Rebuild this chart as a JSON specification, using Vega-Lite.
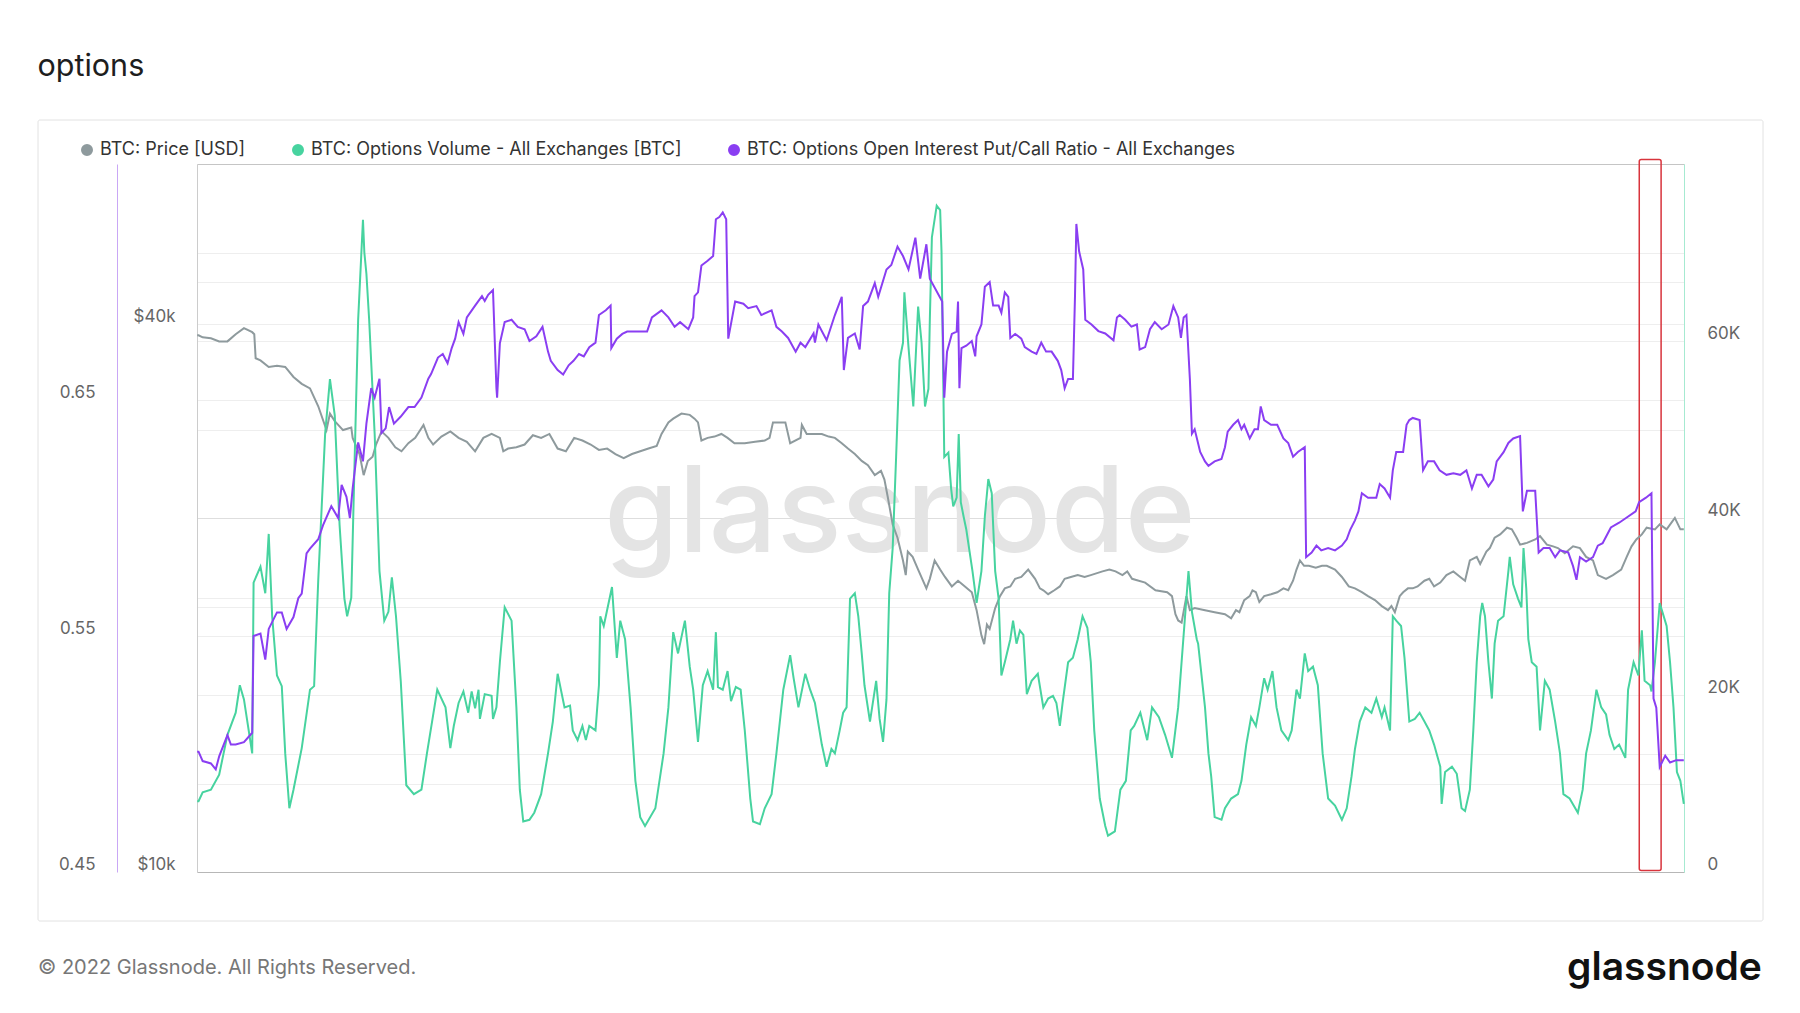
{
"$schema": "https://vega.github.io/schema/vega-lite/v6.json",
"width": 1487, "height": 708,
"autosize": {"type": "none"},
"padding": {"left": 197, "top": 164, "right": 116, "bottom": 141},
"background": "#ffffff",
"title": {"text": "options", "anchor": "start", "frame": "bounds", "font": "Inter", "fontSize": 30.5, "fontWeight": 400, "color": "#1e1e1e", "offset": 13, "baseline": "alphabetic"},
"datasets": {
"price": [
{"t":"2022-05-02T04:00","p":38900},{"t":"2022-05-02T06:00","p":38900},{"t":"2022-05-02T12:00","p":38700},{"t":"2022-05-03T00:00","p":38600},{"t":"2022-05-03T12:00","p":38300},{"t":"2022-05-04T00:00","p":38300},{"t":"2022-05-04T12:00","p":39000},{"t":"2022-05-05T00:00","p":39600},{"t":"2022-05-05T12:00","p":39200},{"t":"2022-05-05T15:00","p":39000},{"t":"2022-05-05T17:00","p":36700},{"t":"2022-05-06T00:00","p":36500},{"t":"2022-05-06T12:00","p":35900},{"t":"2022-05-07T00:00","p":36000},{"t":"2022-05-07T12:00","p":35900},{"t":"2022-05-08T00:00","p":35000},{"t":"2022-05-08T12:00","p":34400},{"t":"2022-05-09T00:00","p":34000},{"t":"2022-05-09T12:00","p":32500},{"t":"2022-05-10T00:00","p":30600},{"t":"2022-05-10T05:00","p":31900},{"t":"2022-05-10T12:00","p":31300},{"t":"2022-05-11T00:00","p":30600},{"t":"2022-05-11T12:00","p":30800},{"t":"2022-05-11T14:00","p":30000},{"t":"2022-05-12T00:00","p":28800},{"t":"2022-05-12T06:00","p":27300},{"t":"2022-05-12T12:00","p":28300},{"t":"2022-05-12T19:00","p":28600},{"t":"2022-05-13T00:00","p":29500},{"t":"2022-05-13T08:00","p":30500},{"t":"2022-05-13T18:00","p":30000},{"t":"2022-05-14T04:00","p":29300},{"t":"2022-05-14T13:00","p":29000},{"t":"2022-05-14T23:00","p":29600},{"t":"2022-05-15T09:00","p":30000},{"t":"2022-05-15T21:00","p":31000},{"t":"2022-05-16T04:00","p":30000},{"t":"2022-05-16T11:00","p":29500},{"t":"2022-05-16T23:00","p":30100},{"t":"2022-05-17T12:00","p":30500},{"t":"2022-05-18T00:00","p":30000},{"t":"2022-05-18T12:00","p":29700},{"t":"2022-05-19T00:00","p":29000},{"t":"2022-05-19T12:00","p":30000},{"t":"2022-05-20T00:00","p":30300},{"t":"2022-05-20T12:00","p":30000},{"t":"2022-05-20T17:00","p":29000},{"t":"2022-05-21T00:00","p":29200},{"t":"2022-05-21T12:00","p":29300},{"t":"2022-05-22T00:00","p":29500},{"t":"2022-05-22T12:00","p":30200},{"t":"2022-05-23T00:00","p":30000},{"t":"2022-05-23T12:00","p":30300},{"t":"2022-05-24T00:00","p":29200},{"t":"2022-05-24T12:00","p":29000},{"t":"2022-05-25T00:00","p":30000},{"t":"2022-05-25T12:00","p":29800},{"t":"2022-05-26T00:00","p":29500},{"t":"2022-05-26T12:00","p":29100},{"t":"2022-05-27T00:00","p":29200},{"t":"2022-05-27T12:00","p":28800},{"t":"2022-05-28T00:00","p":28500},{"t":"2022-05-28T12:00","p":28800},{"t":"2022-05-29T00:00","p":29000},{"t":"2022-05-29T12:00","p":29200},{"t":"2022-05-30T00:00","p":29400},{"t":"2022-05-30T07:00","p":30300},{"t":"2022-05-30T17:00","p":31200},{"t":"2022-05-31T00:00","p":31500},{"t":"2022-05-31T12:00","p":31900},{"t":"2022-06-01T00:00","p":31800},{"t":"2022-06-01T07:00","p":31500},{"t":"2022-06-01T12:00","p":31200},{"t":"2022-06-01T17:00","p":29800},{"t":"2022-06-02T02:00","p":30000},{"t":"2022-06-02T12:00","p":30100},{"t":"2022-06-02T22:00","p":30300},{"t":"2022-06-03T07:00","p":30000},{"t":"2022-06-03T17:00","p":29600},{"t":"2022-06-04T08:00","p":29600},{"t":"2022-06-04T23:00","p":29700},{"t":"2022-06-05T13:00","p":29800},{"t":"2022-06-05T20:00","p":30000},{"t":"2022-06-06T01:00","p":31200},{"t":"2022-06-06T19:00","p":31200},{"t":"2022-06-07T02:00","p":29600},{"t":"2022-06-07T17:00","p":30000},{"t":"2022-06-07T19:00","p":31000},{"t":"2022-06-08T02:00","p":30300},{"t":"2022-06-08T12:00","p":30300},{"t":"2022-06-09T00:00","p":30300},{"t":"2022-06-09T10:00","p":30100},{"t":"2022-06-09T19:00","p":30000},{"t":"2022-06-10T05:00","p":29600},{"t":"2022-06-10T14:00","p":29200},{"t":"2022-06-11T00:00","p":28800},{"t":"2022-06-11T10:00","p":28300},{"t":"2022-06-11T19:00","p":28000},{"t":"2022-06-12T05:00","p":27300},{"t":"2022-06-12T14:00","p":27600},{"t":"2022-06-12T19:00","p":27000},{"t":"2022-06-13T00:00","p":25800},{"t":"2022-06-13T07:00","p":24100},{"t":"2022-06-13T14:00","p":23300},{"t":"2022-06-13T22:00","p":22000},{"t":"2022-06-14T02:00","p":21200},{"t":"2022-06-14T05:00","p":22500},{"t":"2022-06-14T12:00","p":22200},{"t":"2022-06-14T20:00","p":21500},{"t":"2022-06-15T08:00","p":20500},{"t":"2022-06-15T13:00","p":21000},{"t":"2022-06-15T20:00","p":22000},{"t":"2022-06-16T04:00","p":21500},{"t":"2022-06-16T11:00","p":21100},{"t":"2022-06-16T21:00","p":20600},{"t":"2022-06-17T06:00","p":20900},{"t":"2022-06-17T16:00","p":20600},{"t":"2022-06-18T02:00","p":20300},{"t":"2022-06-18T09:00","p":19400},{"t":"2022-06-18T16:00","p":18200},{"t":"2022-06-18T20:00","p":17800},{"t":"2022-06-19T00:00","p":18700},{"t":"2022-06-19T04:00","p":18500},{"t":"2022-06-19T12:00","p":19500},{"t":"2022-06-19T19:00","p":20100},{"t":"2022-06-20T02:00","p":20500},{"t":"2022-06-20T10:00","p":20600},{"t":"2022-06-20T17:00","p":21000},{"t":"2022-06-21T02:00","p":21100},{"t":"2022-06-21T12:00","p":21500},{"t":"2022-06-21T22:00","p":21000},{"t":"2022-06-22T05:00","p":20500},{"t":"2022-06-22T10:00","p":20400},{"t":"2022-06-22T17:00","p":20200},{"t":"2022-06-23T02:00","p":20400},{"t":"2022-06-23T10:00","p":20600},{"t":"2022-06-23T17:00","p":21000},{"t":"2022-06-24T02:00","p":21100},{"t":"2022-06-24T12:00","p":21200},{"t":"2022-06-24T22:00","p":21100},{"t":"2022-06-25T07:00","p":21200},{"t":"2022-06-26T00:00","p":21400},{"t":"2022-06-26T10:00","p":21500},{"t":"2022-06-26T19:00","p":21400},{"t":"2022-06-27T05:00","p":21200},{"t":"2022-06-27T12:00","p":21400},{"t":"2022-06-27T19:00","p":21000},{"t":"2022-06-28T14:00","p":20800},{"t":"2022-06-29T05:00","p":20400},{"t":"2022-06-29T22:00","p":20300},{"t":"2022-06-30T05:00","p":20100},{"t":"2022-06-30T10:00","p":19200},{"t":"2022-06-30T14:00","p":18900},{"t":"2022-06-30T19:00","p":18800},{"t":"2022-07-01T02:00","p":20100},{"t":"2022-07-01T07:00","p":19400},{"t":"2022-07-01T14:00","p":19500},{"t":"2022-07-02T05:00","p":19400},{"t":"2022-07-02T19:00","p":19300},{"t":"2022-07-03T10:00","p":19200},{"t":"2022-07-03T19:00","p":19000},{"t":"2022-07-04T02:00","p":19400},{"t":"2022-07-04T07:00","p":19300},{"t":"2022-07-04T14:00","p":19900},{"t":"2022-07-04T22:00","p":20100},{"t":"2022-07-05T02:00","p":20400},{"t":"2022-07-05T07:00","p":20300},{"t":"2022-07-05T12:00","p":19800},{"t":"2022-07-05T19:00","p":20100},{"t":"2022-07-06T05:00","p":20200},{"t":"2022-07-06T14:00","p":20300},{"t":"2022-07-06T23:00","p":20500},{"t":"2022-07-07T06:00","p":20400},{"t":"2022-07-07T13:00","p":20900},{"t":"2022-07-07T18:00","p":21500},{"t":"2022-07-07T23:00","p":22000},{"t":"2022-07-08T05:00","p":21700},{"t":"2022-07-08T12:00","p":21700},{"t":"2022-07-08T22:00","p":21600},{"t":"2022-07-09T07:00","p":21700},{"t":"2022-07-09T14:00","p":21700},{"t":"2022-07-10T02:00","p":21500},{"t":"2022-07-10T12:00","p":21100},{"t":"2022-07-10T22:00","p":20600},{"t":"2022-07-11T07:00","p":20500},{"t":"2022-07-11T17:00","p":20300},{"t":"2022-07-12T02:00","p":20100},{"t":"2022-07-12T12:00","p":19900},{"t":"2022-07-12T22:00","p":19600},{"t":"2022-07-13T07:00","p":19400},{"t":"2022-07-13T12:00","p":19600},{"t":"2022-07-13T17:00","p":19300},{"t":"2022-07-14T00:00","p":20100},{"t":"2022-07-14T05:00","p":20300},{"t":"2022-07-14T12:00","p":20500},{"t":"2022-07-14T19:00","p":20500},{"t":"2022-07-15T02:00","p":20600},{"t":"2022-07-15T12:00","p":20900},{"t":"2022-07-15T19:00","p":21000},{"t":"2022-07-16T02:00","p":20600},{"t":"2022-07-16T11:00","p":20800},{"t":"2022-07-16T20:00","p":21200},{"t":"2022-07-17T06:00","p":21400},{"t":"2022-07-17T16:00","p":21100},{"t":"2022-07-17T23:00","p":20900},{"t":"2022-07-18T06:00","p":22000},{"t":"2022-07-18T16:00","p":22200},{"t":"2022-07-18T21:00","p":21800},{"t":"2022-07-19T06:00","p":22500},{"t":"2022-07-19T11:00","p":22700},{"t":"2022-07-19T18:00","p":23300},{"t":"2022-07-20T02:00","p":23500},{"t":"2022-07-20T12:00","p":23900},{"t":"2022-07-20T19:00","p":23800},{"t":"2022-07-21T02:00","p":23300},{"t":"2022-07-21T07:00","p":22900},{"t":"2022-07-21T17:00","p":23000},{"t":"2022-07-22T05:00","p":23200},{"t":"2022-07-22T12:00","p":23400},{"t":"2022-07-22T22:00","p":22900},{"t":"2022-07-23T07:00","p":22800},{"t":"2022-07-23T14:00","p":22700},{"t":"2022-07-24T00:00","p":22400},{"t":"2022-07-24T12:00","p":22800},{"t":"2022-07-24T22:00","p":22700},{"t":"2022-07-25T07:00","p":22200},{"t":"2022-07-25T17:00","p":22000},{"t":"2022-07-26T00:00","p":21200},{"t":"2022-07-26T12:00","p":21000},{"t":"2022-07-26T22:00","p":21200},{"t":"2022-07-27T10:00","p":21500},{"t":"2022-07-27T18:00","p":22200},{"t":"2022-07-28T01:00","p":22800},{"t":"2022-07-28T08:00","p":23200},{"t":"2022-07-28T16:00","p":23500},{"t":"2022-07-28T23:00","p":23900},{"t":"2022-07-29T11:00","p":23800},{"t":"2022-07-29T18:00","p":24100},{"t":"2022-07-30T04:00","p":23800},{"t":"2022-07-30T16:00","p":24500},{"t":"2022-07-31T00:00","p":23800},{"t":"2022-07-31T05:00","p":23800}
],
"volume": [
{"t":"2022-05-02T04:00","v":8000},{"t":"2022-05-02T06:00","v":8000},{"t":"2022-05-02T12:00","v":9000},{"t":"2022-05-03T00:00","v":9300},{"t":"2022-05-03T12:00","v":11000},{"t":"2022-05-04T00:00","v":15500},{"t":"2022-05-04T12:00","v":18000},{"t":"2022-05-04T18:00","v":21100},{"t":"2022-05-05T00:00","v":19500},{"t":"2022-05-05T12:00","v":13400},{"t":"2022-05-05T14:00","v":32700},{"t":"2022-05-06T00:00","v":34500},{"t":"2022-05-06T07:00","v":31500},{"t":"2022-05-06T12:00","v":38200},{"t":"2022-05-06T17:00","v":28900},{"t":"2022-05-07T00:00","v":22200},{"t":"2022-05-07T07:00","v":21000},{"t":"2022-05-07T12:00","v":13400},{"t":"2022-05-07T18:00","v":7200},{"t":"2022-05-08T00:00","v":9300},{"t":"2022-05-08T12:00","v":14000},{"t":"2022-05-09T00:00","v":20600},{"t":"2022-05-09T06:00","v":21000},{"t":"2022-05-09T12:00","v":33000},{"t":"2022-05-09T22:00","v":49500},{"t":"2022-05-10T05:00","v":55700},{"t":"2022-05-10T12:00","v":51600},{"t":"2022-05-10T19:00","v":39200},{"t":"2022-05-11T02:00","v":30900},{"t":"2022-05-11T06:00","v":28900},{"t":"2022-05-11T12:00","v":31000},{"t":"2022-05-11T17:00","v":46900},{"t":"2022-05-11T22:00","v":62400},{"t":"2022-05-12T05:00","v":73700},{"t":"2022-05-12T07:00","v":70000},{"t":"2022-05-12T10:00","v":67600},{"t":"2022-05-12T14:00","v":62400},{"t":"2022-05-12T22:00","v":49500},{"t":"2022-05-13T05:00","v":34000},{"t":"2022-05-13T12:00","v":28400},{"t":"2022-05-13T18:00","v":29400},{"t":"2022-05-13T23:00","v":33300},{"t":"2022-05-14T05:00","v":28900},{"t":"2022-05-14T12:00","v":21500},{"t":"2022-05-14T20:00","v":9800},{"t":"2022-05-15T07:00","v":8800},{"t":"2022-05-15T18:00","v":9300},{"t":"2022-05-16T02:00","v":13400},{"t":"2022-05-16T17:00","v":20600},{"t":"2022-05-17T05:00","v":18600},{"t":"2022-05-17T12:00","v":14000},{"t":"2022-05-17T17:00","v":16500},{"t":"2022-05-18T00:00","v":19100},{"t":"2022-05-18T07:00","v":20400},{"t":"2022-05-18T14:00","v":18000},{"t":"2022-05-18T19:00","v":20400},{"t":"2022-05-19T00:00","v":18500},{"t":"2022-05-19T05:00","v":20600},{"t":"2022-05-19T07:00","v":17300},{"t":"2022-05-19T14:00","v":20100},{"t":"2022-05-20T00:00","v":19900},{"t":"2022-05-20T02:00","v":17300},{"t":"2022-05-20T07:00","v":18600},{"t":"2022-05-20T12:00","v":23700},{"t":"2022-05-20T19:00","v":29900},{"t":"2022-05-21T05:00","v":28400},{"t":"2022-05-21T12:00","v":18600},{"t":"2022-05-21T17:00","v":9300},{"t":"2022-05-21T22:00","v":5700},{"t":"2022-05-22T07:00","v":5900},{"t":"2022-05-22T14:00","v":6700},{"t":"2022-05-23T00:00","v":8800},{"t":"2022-05-23T10:00","v":13400},{"t":"2022-05-23T17:00","v":17000},{"t":"2022-05-24T00:00","v":22400},{"t":"2022-05-24T10:00","v":18600},{"t":"2022-05-24T18:00","v":18800},{"t":"2022-05-24T22:00","v":16000},{"t":"2022-05-25T05:00","v":14900},{"t":"2022-05-25T12:00","v":16500},{"t":"2022-05-25T17:00","v":14900},{"t":"2022-05-25T22:00","v":16500},{"t":"2022-05-26T07:00","v":16000},{"t":"2022-05-26T12:00","v":21100},{"t":"2022-05-26T14:00","v":28900},{"t":"2022-05-26T19:00","v":27800},{"t":"2022-05-27T07:00","v":32200},{"t":"2022-05-27T14:00","v":24200},{"t":"2022-05-27T19:00","v":28400},{"t":"2022-05-28T02:00","v":26300},{"t":"2022-05-28T10:00","v":18600},{"t":"2022-05-28T17:00","v":10300},{"t":"2022-05-29T00:00","v":6200},{"t":"2022-05-29T07:00","v":5200},{"t":"2022-05-29T22:00","v":7200},{"t":"2022-05-30T10:00","v":13400},{"t":"2022-05-30T17:00","v":18600},{"t":"2022-05-31T00:00","v":27100},{"t":"2022-05-31T07:00","v":24700},{"t":"2022-05-31T17:00","v":28400},{"t":"2022-06-01T00:00","v":23200},{"t":"2022-06-01T05:00","v":20600},{"t":"2022-06-01T12:00","v":14700},{"t":"2022-06-01T19:00","v":21100},{"t":"2022-06-02T02:00","v":22700},{"t":"2022-06-02T10:00","v":20600},{"t":"2022-06-02T14:00","v":27100},{"t":"2022-06-02T17:00","v":20900},{"t":"2022-06-03T00:00","v":20600},{"t":"2022-06-03T07:00","v":22700},{"t":"2022-06-03T12:00","v":19300},{"t":"2022-06-03T19:00","v":20900},{"t":"2022-06-04T02:00","v":20600},{"t":"2022-06-04T08:00","v":16000},{"t":"2022-06-04T16:00","v":8300},{"t":"2022-06-04T20:00","v":5700},{"t":"2022-06-05T06:00","v":5400},{"t":"2022-06-05T13:00","v":7200},{"t":"2022-06-05T23:00","v":8800},{"t":"2022-06-06T06:00","v":13400},{"t":"2022-06-06T16:00","v":20600},{"t":"2022-06-07T02:00","v":24500},{"t":"2022-06-07T07:00","v":21900},{"t":"2022-06-07T14:00","v":18600},{"t":"2022-06-08T00:00","v":22400},{"t":"2022-06-08T07:00","v":20600},{"t":"2022-06-08T14:00","v":19100},{"t":"2022-06-09T00:00","v":14400},{"t":"2022-06-09T07:00","v":11900},{"t":"2022-06-09T14:00","v":13900},{"t":"2022-06-09T19:00","v":13400},{"t":"2022-06-10T02:00","v":16000},{"t":"2022-06-10T07:00","v":18000},{"t":"2022-06-10T12:00","v":18600},{"t":"2022-06-10T17:00","v":30900},{"t":"2022-06-11T00:00","v":31500},{"t":"2022-06-11T05:00","v":28900},{"t":"2022-06-11T10:00","v":24700},{"t":"2022-06-11T14:00","v":21100},{"t":"2022-06-11T22:00","v":17000},{"t":"2022-06-12T07:00","v":21600},{"t":"2022-06-12T12:00","v":17300},{"t":"2022-06-12T17:00","v":14700},{"t":"2022-06-12T22:00","v":19500},{"t":"2022-06-13T02:00","v":31500},{"t":"2022-06-13T07:00","v":36600},{"t":"2022-06-13T12:00","v":46900},{"t":"2022-06-13T17:00","v":57800},{"t":"2022-06-13T22:00","v":59800},{"t":"2022-06-14T00:00","v":65500},{"t":"2022-06-14T06:00","v":59300},{"t":"2022-06-14T13:00","v":52600},{"t":"2022-06-14T20:00","v":63900},{"t":"2022-06-15T01:00","v":59800},{"t":"2022-06-15T06:00","v":52600},{"t":"2022-06-15T11:00","v":54600},{"t":"2022-06-15T13:00","v":62400},{"t":"2022-06-15T16:00","v":71700},{"t":"2022-06-15T23:00","v":75300},{"t":"2022-06-16T04:00","v":74800},{"t":"2022-06-16T06:00","v":70100},{"t":"2022-06-16T10:00","v":46900},{"t":"2022-06-16T16:00","v":47400},{"t":"2022-06-16T20:00","v":43300},{"t":"2022-06-16T23:00","v":41300},{"t":"2022-06-17T04:00","v":42300},{"t":"2022-06-17T07:00","v":49500},{"t":"2022-06-17T10:00","v":41800},{"t":"2022-06-17T14:00","v":40200},{"t":"2022-06-17T18:00","v":38700},{"t":"2022-06-18T03:00","v":34000},{"t":"2022-06-18T09:00","v":30400},{"t":"2022-06-18T16:00","v":34000},{"t":"2022-06-18T21:00","v":40200},{"t":"2022-06-19T02:00","v":44400},{"t":"2022-06-19T07:00","v":42800},{"t":"2022-06-19T12:00","v":34000},{"t":"2022-06-19T17:00","v":30900},{"t":"2022-06-19T21:00","v":22200},{"t":"2022-06-20T02:00","v":23700},{"t":"2022-06-20T10:00","v":26300},{"t":"2022-06-20T14:00","v":28400},{"t":"2022-06-20T19:00","v":25800},{"t":"2022-06-21T00:00","v":27300},{"t":"2022-06-21T05:00","v":26800},{"t":"2022-06-21T10:00","v":20100},{"t":"2022-06-21T17:00","v":21600},{"t":"2022-06-22T02:00","v":22400},{"t":"2022-06-22T10:00","v":18600},{"t":"2022-06-22T17:00","v":19600},{"t":"2022-06-23T00:00","v":19900},{"t":"2022-06-23T05:00","v":19100},{"t":"2022-06-23T10:00","v":16500},{"t":"2022-06-23T14:00","v":19100},{"t":"2022-06-23T22:00","v":23700},{"t":"2022-06-24T05:00","v":24200},{"t":"2022-06-24T12:00","v":26300},{"t":"2022-06-24T19:00","v":28900},{"t":"2022-06-25T02:00","v":27600},{"t":"2022-06-25T07:00","v":23700},{"t":"2022-06-25T12:00","v":16000},{"t":"2022-06-25T20:00","v":8300},{"t":"2022-06-26T04:00","v":5200},{"t":"2022-06-26T08:00","v":4100},{"t":"2022-06-26T18:00","v":4600},{"t":"2022-06-27T02:00","v":9300},{"t":"2022-06-27T10:00","v":10300},{"t":"2022-06-27T17:00","v":16000},{"t":"2022-06-27T22:00","v":16500},{"t":"2022-06-28T07:00","v":18000},{"t":"2022-06-28T17:00","v":14900},{"t":"2022-06-29T00:00","v":18600},{"t":"2022-06-29T10:00","v":17500},{"t":"2022-06-29T19:00","v":15500},{"t":"2022-06-30T05:00","v":12900},{"t":"2022-06-30T14:00","v":18600},{"t":"2022-07-01T00:00","v":28900},{"t":"2022-07-01T05:00","v":34000},{"t":"2022-07-01T10:00","v":29400},{"t":"2022-07-01T17:00","v":26300},{"t":"2022-07-01T19:00","v":25800},{"t":"2022-07-02T05:00","v":18600},{"t":"2022-07-02T10:00","v":13400},{"t":"2022-07-02T14:00","v":10800},{"t":"2022-07-02T19:00","v":6200},{"t":"2022-07-03T05:00","v":5900},{"t":"2022-07-03T10:00","v":7200},{"t":"2022-07-03T19:00","v":8300},{"t":"2022-07-04T05:00","v":8800},{"t":"2022-07-04T10:00","v":10300},{"t":"2022-07-04T17:00","v":14400},{"t":"2022-07-05T00:00","v":17500},{"t":"2022-07-05T07:00","v":16500},{"t":"2022-07-05T12:00","v":18600},{"t":"2022-07-05T19:00","v":21900},{"t":"2022-07-06T00:00","v":20600},{"t":"2022-07-06T07:00","v":22700},{"t":"2022-07-06T13:00","v":18600},{"t":"2022-07-06T20:00","v":16000},{"t":"2022-07-07T06:00","v":14900},{"t":"2022-07-07T11:00","v":16000},{"t":"2022-07-07T18:00","v":20600},{"t":"2022-07-07T23:00","v":19600},{"t":"2022-07-08T06:00","v":24700},{"t":"2022-07-08T11:00","v":22700},{"t":"2022-07-08T18:00","v":23200},{"t":"2022-07-09T01:00","v":21100},{"t":"2022-07-09T08:00","v":13400},{"t":"2022-07-09T16:00","v":8300},{"t":"2022-07-10T02:00","v":7500},{"t":"2022-07-10T12:00","v":5900},{"t":"2022-07-10T19:00","v":7200},{"t":"2022-07-11T02:00","v":10800},{"t":"2022-07-11T07:00","v":13900},{"t":"2022-07-11T14:00","v":17000},{"t":"2022-07-11T22:00","v":18600},{"t":"2022-07-12T07:00","v":18000},{"t":"2022-07-12T14:00","v":19600},{"t":"2022-07-12T22:00","v":17500},{"t":"2022-07-13T02:00","v":18600},{"t":"2022-07-13T10:00","v":16000},{"t":"2022-07-13T14:00","v":28900},{"t":"2022-07-13T19:00","v":28400},{"t":"2022-07-14T02:00","v":27800},{"t":"2022-07-14T07:00","v":24200},{"t":"2022-07-14T14:00","v":17000},{"t":"2022-07-14T22:00","v":17300},{"t":"2022-07-15T05:00","v":18000},{"t":"2022-07-15T12:00","v":17000},{"t":"2022-07-15T19:00","v":16000},{"t":"2022-07-16T02:00","v":14400},{"t":"2022-07-16T11:00","v":11900},{"t":"2022-07-16T13:00","v":7700},{"t":"2022-07-16T18:00","v":11300},{"t":"2022-07-17T04:00","v":11900},{"t":"2022-07-17T11:00","v":11100},{"t":"2022-07-17T18:00","v":7200},{"t":"2022-07-17T23:00","v":6900},{"t":"2022-07-18T06:00","v":9300},{"t":"2022-07-18T11:00","v":16000},{"t":"2022-07-18T16:00","v":23700},{"t":"2022-07-18T21:00","v":28900},{"t":"2022-07-19T00:00","v":30400},{"t":"2022-07-19T04:00","v":28900},{"t":"2022-07-19T09:00","v":23700},{"t":"2022-07-19T14:00","v":19600},{"t":"2022-07-19T18:00","v":25800},{"t":"2022-07-19T23:00","v":28400},{"t":"2022-07-20T07:00","v":28900},{"t":"2022-07-20T14:00","v":34000},{"t":"2022-07-20T16:00","v":35600},{"t":"2022-07-20T21:00","v":32500},{"t":"2022-07-21T04:00","v":30900},{"t":"2022-07-21T09:00","v":29900},{"t":"2022-07-21T12:00","v":36600},{"t":"2022-07-21T16:00","v":32000},{"t":"2022-07-21T19:00","v":26300},{"t":"2022-07-22T00:00","v":23700},{"t":"2022-07-22T07:00","v":23200},{"t":"2022-07-22T12:00","v":16000},{"t":"2022-07-22T19:00","v":21600},{"t":"2022-07-23T02:00","v":20600},{"t":"2022-07-23T10:00","v":17000},{"t":"2022-07-23T17:00","v":13400},{"t":"2022-07-23T22:00","v":8800},{"t":"2022-07-24T07:00","v":8300},{"t":"2022-07-24T19:00","v":6700},{"t":"2022-07-25T02:00","v":9300},{"t":"2022-07-25T07:00","v":13400},{"t":"2022-07-25T14:00","v":16000},{"t":"2022-07-25T22:00","v":20600},{"t":"2022-07-26T05:00","v":18600},{"t":"2022-07-26T12:00","v":17800},{"t":"2022-07-26T17:00","v":15500},{"t":"2022-07-27T00:00","v":13900},{"t":"2022-07-27T07:00","v":14400},{"t":"2022-07-27T16:00","v":12900},{"t":"2022-07-27T20:00","v":20600},{"t":"2022-07-28T04:00","v":23700},{"t":"2022-07-28T11:00","v":22200},{"t":"2022-07-28T16:00","v":27300},{"t":"2022-07-28T20:00","v":21600},{"t":"2022-07-29T04:00","v":21100},{"t":"2022-07-29T06:00","v":20400},{"t":"2022-07-29T11:00","v":23700},{"t":"2022-07-29T18:00","v":30400},{"t":"2022-07-30T04:00","v":27800},{"t":"2022-07-30T09:00","v":23700},{"t":"2022-07-30T14:00","v":18600},{"t":"2022-07-30T19:00","v":11300},{"t":"2022-07-31T00:00","v":10300},{"t":"2022-07-31T05:00","v":7700}
],
"ratio": [
{"t":"2022-05-02T04:00","r":0.501},{"t":"2022-05-02T06:00","r":0.501},{"t":"2022-05-02T12:00","r":0.497},{"t":"2022-05-03T00:00","r":0.496},{"t":"2022-05-03T07:00","r":0.4935},{"t":"2022-05-03T12:00","r":0.499},{"t":"2022-05-04T00:00","r":0.508},{"t":"2022-05-04T05:00","r":0.504},{"t":"2022-05-04T12:00","r":0.504},{"t":"2022-05-05T00:00","r":0.505},{"t":"2022-05-05T12:00","r":0.509},{"t":"2022-05-05T14:00","r":0.55},{"t":"2022-05-06T00:00","r":0.551},{"t":"2022-05-06T07:00","r":0.54},{"t":"2022-05-06T12:00","r":0.553},{"t":"2022-05-07T00:00","r":0.56},{"t":"2022-05-07T07:00","r":0.56},{"t":"2022-05-07T14:00","r":0.553},{"t":"2022-05-08T00:00","r":0.558},{"t":"2022-05-08T07:00","r":0.566},{"t":"2022-05-08T12:00","r":0.568},{"t":"2022-05-08T19:00","r":0.585},{"t":"2022-05-09T00:00","r":0.587},{"t":"2022-05-09T12:00","r":0.591},{"t":"2022-05-09T19:00","r":0.597},{"t":"2022-05-10T07:00","r":0.605},{"t":"2022-05-10T17:00","r":0.6},{"t":"2022-05-10T22:00","r":0.614},{"t":"2022-05-11T05:00","r":0.609},{"t":"2022-05-11T10:00","r":0.6},{"t":"2022-05-11T14:00","r":0.6125},{"t":"2022-05-11T22:00","r":0.632},{"t":"2022-05-12T05:00","r":0.624},{"t":"2022-05-12T10:00","r":0.64},{"t":"2022-05-12T17:00","r":0.655},{"t":"2022-05-12T22:00","r":0.651},{"t":"2022-05-13T05:00","r":0.659},{"t":"2022-05-13T08:00","r":0.636},{"t":"2022-05-13T14:00","r":0.638},{"t":"2022-05-13T19:00","r":0.647},{"t":"2022-05-14T02:00","r":0.64},{"t":"2022-05-14T12:00","r":0.643},{"t":"2022-05-14T23:00","r":0.647},{"t":"2022-05-15T08:00","r":0.647},{"t":"2022-05-15T18:00","r":0.651},{"t":"2022-05-16T04:00","r":0.659},{"t":"2022-05-16T08:00","r":0.661},{"t":"2022-05-16T18:00","r":0.668},{"t":"2022-05-17T01:00","r":0.6695},{"t":"2022-05-17T08:00","r":0.6656},{"t":"2022-05-17T14:00","r":0.672},{"t":"2022-05-17T19:00","r":0.676},{"t":"2022-05-18T00:00","r":0.683},{"t":"2022-05-18T07:00","r":0.678},{"t":"2022-05-18T12:00","r":0.685},{"t":"2022-05-19T00:00","r":0.69},{"t":"2022-05-19T10:00","r":0.694},{"t":"2022-05-19T14:00","r":0.692},{"t":"2022-05-19T19:00","r":0.6946},{"t":"2022-05-20T02:00","r":0.6966},{"t":"2022-05-20T07:00","r":0.655},{"t":"2022-05-20T08:00","r":0.651},{"t":"2022-05-20T12:00","r":0.674},{"t":"2022-05-20T19:00","r":0.683},{"t":"2022-05-21T05:00","r":0.684},{"t":"2022-05-21T14:00","r":0.681},{"t":"2022-05-22T00:00","r":0.68},{"t":"2022-05-22T07:00","r":0.675},{"t":"2022-05-22T17:00","r":0.677},{"t":"2022-05-23T02:00","r":0.681},{"t":"2022-05-23T10:00","r":0.6705},{"t":"2022-05-23T14:00","r":0.6666},{"t":"2022-05-24T00:00","r":0.6627},{"t":"2022-05-24T08:00","r":0.6608},{"t":"2022-05-24T16:00","r":0.6647},{"t":"2022-05-24T23:00","r":0.6666},{"t":"2022-05-25T07:00","r":0.6695},{"t":"2022-05-25T14:00","r":0.6685},{"t":"2022-05-25T22:00","r":0.6724},{"t":"2022-05-26T07:00","r":0.6743},{"t":"2022-05-26T12:00","r":0.686},{"t":"2022-05-26T22:00","r":0.688},{"t":"2022-05-27T05:00","r":0.69},{"t":"2022-05-27T06:00","r":0.672},{"t":"2022-05-27T14:00","r":0.676},{"t":"2022-05-27T22:00","r":0.678},{"t":"2022-05-28T05:00","r":0.679},{"t":"2022-05-28T17:00","r":0.679},{"t":"2022-05-29T02:00","r":0.679},{"t":"2022-05-29T10:00","r":0.679},{"t":"2022-05-29T17:00","r":0.685},{"t":"2022-05-30T07:00","r":0.688},{"t":"2022-05-30T17:00","r":0.685},{"t":"2022-05-31T02:00","r":0.681},{"t":"2022-05-31T10:00","r":0.683},{"t":"2022-05-31T22:00","r":0.68},{"t":"2022-06-01T05:00","r":0.685},{"t":"2022-06-01T07:00","r":0.694},{"t":"2022-06-01T12:00","r":0.6956},{"t":"2022-06-01T17:00","r":0.707},{"t":"2022-06-02T02:00","r":0.709},{"t":"2022-06-02T10:00","r":0.711},{"t":"2022-06-02T14:00","r":0.7266},{"t":"2022-06-02T19:00","r":0.7275},{"t":"2022-06-03T00:00","r":0.7295},{"t":"2022-06-03T05:00","r":0.7266},{"t":"2022-06-03T08:00","r":0.676},{"t":"2022-06-03T18:00","r":0.6917},{"t":"2022-06-04T06:00","r":0.6908},{"t":"2022-06-04T13:00","r":0.6889},{"t":"2022-06-05T01:00","r":0.6898},{"t":"2022-06-05T08:00","r":0.686},{"t":"2022-06-05T23:00","r":0.688},{"t":"2022-06-06T06:00","r":0.681},{"t":"2022-06-06T14:00","r":0.679},{"t":"2022-06-06T23:00","r":0.6763},{"t":"2022-06-07T10:00","r":0.6705},{"t":"2022-06-07T17:00","r":0.6743},{"t":"2022-06-08T00:00","r":0.6724},{"t":"2022-06-08T12:00","r":0.6782},{"t":"2022-06-08T14:00","r":0.6743},{"t":"2022-06-08T19:00","r":0.682},{"t":"2022-06-09T07:00","r":0.6753},{"t":"2022-06-09T19:00","r":0.686},{"t":"2022-06-10T05:00","r":0.6937},{"t":"2022-06-10T08:00","r":0.6627},{"t":"2022-06-10T14:00","r":0.6763},{"t":"2022-06-11T00:00","r":0.6782},{"t":"2022-06-11T07:00","r":0.6714},{"t":"2022-06-11T12:00","r":0.6898},{"t":"2022-06-11T19:00","r":0.6917},{"t":"2022-06-12T05:00","r":0.6995},{"t":"2022-06-12T10:00","r":0.6937},{"t":"2022-06-12T22:00","r":0.7053},{"t":"2022-06-13T05:00","r":0.7072},{"t":"2022-06-13T14:00","r":0.715},{"t":"2022-06-13T22:00","r":0.711},{"t":"2022-06-14T06:00","r":0.7053},{"t":"2022-06-14T16:00","r":0.7188},{"t":"2022-06-14T23:00","r":0.7014},{"t":"2022-06-15T08:00","r":0.716},{"t":"2022-06-15T13:00","r":0.7014},{"t":"2022-06-16T07:00","r":0.6917},{"t":"2022-06-16T10:00","r":0.651},{"t":"2022-06-16T14:00","r":0.6705},{"t":"2022-06-16T21:00","r":0.678},{"t":"2022-06-17T04:00","r":0.679},{"t":"2022-06-17T06:00","r":0.6917},{"t":"2022-06-17T08:00","r":0.655},{"t":"2022-06-17T11:00","r":0.672},{"t":"2022-06-17T18:00","r":0.673},{"t":"2022-06-18T02:00","r":0.675},{"t":"2022-06-18T07:00","r":0.6685},{"t":"2022-06-18T09:00","r":0.677},{"t":"2022-06-18T16:00","r":0.682},{"t":"2022-06-18T21:00","r":0.698},{"t":"2022-06-19T04:00","r":0.7},{"t":"2022-06-19T09:00","r":0.69},{"t":"2022-06-19T17:00","r":0.69},{"t":"2022-06-19T21:00","r":0.687},{"t":"2022-06-20T02:00","r":0.6956},{"t":"2022-06-20T07:00","r":0.6937},{"t":"2022-06-20T10:00","r":0.6763},{"t":"2022-06-20T17:00","r":0.678},{"t":"2022-06-21T02:00","r":0.676},{"t":"2022-06-21T07:00","r":0.6724},{"t":"2022-06-21T17:00","r":0.6705},{"t":"2022-06-22T00:00","r":0.6695},{"t":"2022-06-22T07:00","r":0.6743},{"t":"2022-06-22T14:00","r":0.6705},{"t":"2022-06-22T22:00","r":0.6705},{"t":"2022-06-23T07:00","r":0.6666},{"t":"2022-06-23T12:00","r":0.6627},{"t":"2022-06-23T17:00","r":0.655},{"t":"2022-06-23T22:00","r":0.6589},{"t":"2022-06-24T05:00","r":0.6589},{"t":"2022-06-24T08:00","r":0.6937},{"t":"2022-06-24T10:00","r":0.7246},{"t":"2022-06-24T14:00","r":0.713},{"t":"2022-06-24T20:00","r":0.7053},{"t":"2022-06-24T23:00","r":0.684},{"t":"2022-06-25T08:00","r":0.682},{"t":"2022-06-25T18:00","r":0.6792},{"t":"2022-06-26T04:00","r":0.6782},{"t":"2022-06-26T16:00","r":0.6753},{"t":"2022-06-26T21:00","r":0.685},{"t":"2022-06-27T01:00","r":0.686},{"t":"2022-06-27T09:00","r":0.684},{"t":"2022-06-27T18:00","r":0.6811},{"t":"2022-06-28T02:00","r":0.682},{"t":"2022-06-28T06:00","r":0.6714},{"t":"2022-06-28T14:00","r":0.6724},{"t":"2022-06-28T21:00","r":0.68},{"t":"2022-06-29T04:00","r":0.683},{"t":"2022-06-29T14:00","r":0.68},{"t":"2022-06-30T00:00","r":0.682},{"t":"2022-06-30T07:00","r":0.6898},{"t":"2022-06-30T14:00","r":0.685},{"t":"2022-06-30T18:00","r":0.6763},{"t":"2022-06-30T22:00","r":0.685},{"t":"2022-07-01T02:00","r":0.686},{"t":"2022-07-01T07:00","r":0.6589},{"t":"2022-07-01T10:00","r":0.6357},{"t":"2022-07-01T14:00","r":0.6376},{"t":"2022-07-01T22:00","r":0.628},{"t":"2022-07-02T05:00","r":0.624},{"t":"2022-07-02T10:00","r":0.6221},{"t":"2022-07-02T19:00","r":0.624},{"t":"2022-07-03T05:00","r":0.625},{"t":"2022-07-03T10:00","r":0.63},{"t":"2022-07-03T14:00","r":0.6366},{"t":"2022-07-03T22:00","r":0.6395},{"t":"2022-07-04T05:00","r":0.6415},{"t":"2022-07-04T10:00","r":0.6376},{"t":"2022-07-04T14:00","r":0.6395},{"t":"2022-07-04T22:00","r":0.6337},{"t":"2022-07-05T05:00","r":0.6376},{"t":"2022-07-05T10:00","r":0.6376},{"t":"2022-07-05T14:00","r":0.6473},{"t":"2022-07-05T19:00","r":0.6415},{"t":"2022-07-06T05:00","r":0.6395},{"t":"2022-07-06T14:00","r":0.6395},{"t":"2022-07-06T23:00","r":0.6337},{"t":"2022-07-07T06:00","r":0.6318},{"t":"2022-07-07T13:00","r":0.626},{"t":"2022-07-07T20:00","r":0.628},{"t":"2022-07-08T06:00","r":0.63},{"t":"2022-07-08T08:00","r":0.5834},{"t":"2022-07-08T16:00","r":0.5854},{"t":"2022-07-08T23:00","r":0.5883},{"t":"2022-07-09T06:00","r":0.5863},{"t":"2022-07-09T16:00","r":0.5873},{"t":"2022-07-10T02:00","r":0.5863},{"t":"2022-07-10T12:00","r":0.5883},{"t":"2022-07-10T19:00","r":0.591},{"t":"2022-07-11T00:00","r":0.595},{"t":"2022-07-11T07:00","r":0.599},{"t":"2022-07-11T12:00","r":0.6028},{"t":"2022-07-11T17:00","r":0.6105},{"t":"2022-07-12T02:00","r":0.6086},{"t":"2022-07-12T14:00","r":0.6086},{"t":"2022-07-12T19:00","r":0.6144},{"t":"2022-07-13T02:00","r":0.6125},{"t":"2022-07-13T10:00","r":0.6086},{"t":"2022-07-13T14:00","r":0.6202},{"t":"2022-07-13T19:00","r":0.628},{"t":"2022-07-14T05:00","r":0.628},{"t":"2022-07-14T10:00","r":0.6395},{"t":"2022-07-14T14:00","r":0.6415},{"t":"2022-07-14T19:00","r":0.6424},{"t":"2022-07-15T05:00","r":0.6415},{"t":"2022-07-15T10:00","r":0.6202},{"t":"2022-07-15T17:00","r":0.624},{"t":"2022-07-16T02:00","r":0.624},{"t":"2022-07-16T10:00","r":0.6202},{"t":"2022-07-16T20:00","r":0.6183},{"t":"2022-07-17T06:00","r":0.619},{"t":"2022-07-17T16:00","r":0.6183},{"t":"2022-07-18T01:00","r":0.6202},{"t":"2022-07-18T09:00","r":0.6125},{"t":"2022-07-18T16:00","r":0.6183},{"t":"2022-07-18T23:00","r":0.6183},{"t":"2022-07-19T09:00","r":0.6134},{"t":"2022-07-19T16:00","r":0.6163},{"t":"2022-07-19T21:00","r":0.624},{"t":"2022-07-20T07:00","r":0.6279},{"t":"2022-07-20T14:00","r":0.6318},{"t":"2022-07-20T21:00","r":0.6337},{"t":"2022-07-21T07:00","r":0.6347},{"t":"2022-07-21T11:00","r":0.6028},{"t":"2022-07-21T17:00","r":0.6115},{"t":"2022-07-22T05:00","r":0.6115},{"t":"2022-07-22T10:00","r":0.5854},{"t":"2022-07-22T17:00","r":0.5873},{"t":"2022-07-23T02:00","r":0.5873},{"t":"2022-07-23T10:00","r":0.5834},{"t":"2022-07-23T17:00","r":0.5863},{"t":"2022-07-24T05:00","r":0.5854},{"t":"2022-07-24T12:00","r":0.5796},{"t":"2022-07-24T17:00","r":0.5738},{"t":"2022-07-24T22:00","r":0.5834},{"t":"2022-07-25T07:00","r":0.5815},{"t":"2022-07-25T17:00","r":0.5834},{"t":"2022-07-26T00:00","r":0.5883},{"t":"2022-07-26T07:00","r":0.5893},{"t":"2022-07-26T19:00","r":0.596},{"t":"2022-07-27T07:00","r":0.598},{"t":"2022-07-27T17:00","r":0.6},{"t":"2022-07-28T07:00","r":0.6028},{"t":"2022-07-28T12:00","r":0.6067},{"t":"2022-07-28T22:00","r":0.6086},{"t":"2022-07-29T06:00","r":0.6105},{"t":"2022-07-29T09:00","r":0.5235},{"t":"2022-07-29T13:00","r":0.5196},{"t":"2022-07-29T18:00","r":0.4945},{"t":"2022-07-30T02:00","r":0.4993},{"t":"2022-07-30T09:00","r":0.4964},{"t":"2022-07-30T18:00","r":0.4974},{"t":"2022-07-31T05:00","r":0.4974}
],
"highlight": [{"t":"2022-07-28T12:15","t2":"2022-07-29T20:00"}]
},
"layer": [
 {"layer": [
  {"data": {"values": [{}]}, "mark": {"type": "rect", "filled": false, "stroke": "#e2e2e2", "strokeWidth": 1, "cornerRadius": 2},
   "encoding": {"x": {"datum": {"year":2022,"month":4,"date":22,"hours":12,"minutes":38}, "type": "temporal", "axis": null}, "x2": {"datum": {"year":2022,"month":8,"date":5,"hours":0,"minutes":9}},
    "y": {"datum": 84970, "type": "quantitative", "scale": {"domain": [0, 80000], "nice": false, "zero": false}, "axis": null}, "y2": {"datum": -5540}}},
  {"data": {"values": [{}]}, "mark": {"type": "text", "text": "glassnode", "font": "Inter", "fontSize": 120, "fontWeight": 500, "color": "#e4e4e4", "align": "center", "baseline": "alphabetic"},
   "encoding": {"x": {"datum": {"year":2022,"month":6,"date":13,"hours":17,"minutes":30}, "type": "temporal", "axis": null}, "y": {"datum": 36160, "type": "quantitative", "scale": {"domain": [0, 80000], "nice": false, "zero": false}, "axis": null}}},
  {"data": {"values": [{}]}, "mark": {"type": "text", "text": "© 2022 Glassnode. All Rights Reserved.", "font": "Inter", "fontSize": 20, "color": "#777777", "align": "left", "baseline": "middle"},
   "encoding": {"x": {"datum": {"year":2022,"month":4,"date":22,"hours":12,"minutes":38}, "type": "temporal", "axis": null}, "y": {"datum": -10850, "type": "quantitative", "scale": {"domain": [0, 80000], "nice": false, "zero": false}, "axis": null}}},
  {"data": {"values": [{}]}, "mark": {"type": "text", "text": "glassnode", "font": "Inter", "fontSize": 39, "fontWeight": 600, "color": "#111111", "align": "right", "baseline": "middle"},
   "encoding": {"x": {"datum": {"year":2022,"month":8,"date":4,"hours":22,"minutes":34}, "type": "temporal", "axis": null}, "y": {"datum": -10800, "type": "quantitative", "scale": {"domain": [0, 80000], "nice": false, "zero": false}, "axis": null}}},
  {"data": {"name": "highlight"}, "mark": {"type": "rect", "filled": false, "stroke": "#d8343c", "strokeWidth": 1.5, "cornerRadius": 2},
   "encoding": {"x": {"field": "t", "type": "temporal", "axis": null}, "x2": {"field": "t2"},
    "y": {"datum": 80500, "type": "quantitative", "scale": {"domain": [0, 80000], "nice": false, "zero": false}, "axis": null}, "y2": {"datum": 170}}}
 ]},
 {"data": {"name": "price"}, "mark": {"type": "line"},
  "encoding": {
   "x": {"field": "t", "type": "temporal",
    "scale": {"domain": [{"year":2022,"month":5,"date":2,"hours":3,"minutes":45},{"year":2022,"month":7,"date":31,"hours":5,"minutes":17}]},
    "axis": {"title": null, "format": "%-d. %b", "grid": false, "ticks": true, "tickSize": 10, "tickColor": "#dcdcdc", "domainColor": "#cccccc", "labelColor": "#444444", "labelFontSize": 17.5, "labelPadding": 5, "labelFlush": false, "labelOverlap": false,
     "values": [{"year":2022,"month":5,"date":9},{"year":2022,"month":5,"date":16},{"year":2022,"month":5,"date":23},{"year":2022,"month":5,"date":30},{"year":2022,"month":6,"date":6},{"year":2022,"month":6,"date":13},{"year":2022,"month":6,"date":20},{"year":2022,"month":6,"date":27},{"year":2022,"month":7,"date":4},{"year":2022,"month":7,"date":11},{"year":2022,"month":7,"date":18},{"year":2022,"month":7,"date":25}]}},
   "y": {"field": "p", "type": "quantitative", "scale": {"type": "log", "domain": [10000, 60000], "nice": false},
    "axis": {"orient": "left", "title": null, "values": [10000, 20000, 40000], "labelExpr": "datum.value == 20000 ? '' : '$' + format(datum.value/1000, 'd') + 'k'", "grid": true, "domain": true, "domainColor": "#cccccc", "labelPadding": 22, "labelOffset": -8, "labelBaseline": "middle"}},
   "strokeWidth": {"value": 2},
   "color": {"datum": "BTC: Price [USD]", "type": "nominal",
    "scale": {"domain": ["BTC: Price [USD]", "BTC: Options Volume - All Exchanges [BTC]", "BTC: Options Open Interest Put/Call Ratio - All Exchanges"], "range": ["#8e9a9d", "#47d39f", "#8a3ef2"]},
    "legend": {"orient": "none", "legendX": -119, "legendY": -23, "direction": "horizontal", "columns": 3, "title": null, "symbolType": "circle", "symbolSize": 36, "symbolStrokeWidth": 6, "labelFontSize": 18, "labelColor": "#333333", "labelFont": "Inter", "labelLimit": 1000, "labelOffset": 4, "columnPadding": 37, "padding": 0, "rowPadding": 0}}
  }},
 {"data": {"name": "volume"}, "mark": {"type": "line"},
  "encoding": {
   "x": {"field": "t", "type": "temporal", "axis": null},
   "y": {"field": "v", "type": "quantitative", "scale": {"domain": [0, 80000], "nice": false},
    "axis": {"orient": "right", "title": null, "values": [0, 10000, 20000, 30000, 40000, 50000, 60000, 70000, 80000], "labelExpr": "(datum.value % 20000 == 0 && datum.value < 80000) ? (datum.value == 0 ? '0' : format(datum.value/1000, 'd') + 'K') : ''", "grid": true, "domain": true, "domainColor": "#a6ead1", "labelPadding": 23, "labelOffset": -8, "labelBaseline": "middle"}},
   "strokeWidth": {"value": 2},
   "color": {"datum": "BTC: Options Volume - All Exchanges [BTC]", "type": "nominal"}
  }},
 {"data": {"name": "ratio"}, "mark": {"type": "line"},
  "encoding": {
   "x": {"field": "t", "type": "temporal", "axis": null},
   "y": {"field": "r", "type": "quantitative", "scale": {"domain": [0.45, 0.75], "nice": false, "zero": false},
    "axis": {"orient": "left", "offset": 80, "title": null, "values": [0.45, 0.5, 0.55, 0.6, 0.65, 0.7, 0.75], "labelExpr": "(abs(datum.value - 0.45) < 0.001 || abs(datum.value - 0.55) < 0.001 || abs(datum.value - 0.65) < 0.001) ? format(datum.value, '.2f') : ''", "grid": true, "domain": true, "domainColor": "#c9a7f5", "labelPadding": 22, "labelOffset": -8, "labelBaseline": "middle"}},
   "strokeWidth": {"value": 2},
   "color": {"datum": "BTC: Options Open Interest Put/Call Ratio - All Exchanges", "type": "nominal"}
  }}
],
"resolve": {"scale": {"y": "independent"}},
"config": {
 "font": "Inter",
 "view": {"stroke": "#e4e4e4", "strokeWidth": 1},
 "axis": {"labelFont": "Inter", "labelFontSize": 17, "labelColor": "#666666", "ticks": false, "gridColor": "#000000", "gridOpacity": 0.065, "domainWidth": 1}
}
}
